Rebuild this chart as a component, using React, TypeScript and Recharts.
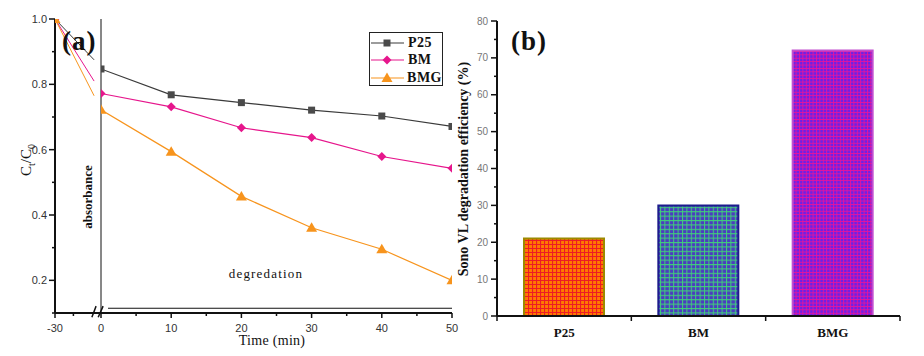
import React from 'react';
import { LineChart, Line, BarChart, Bar, Cell, XAxis, YAxis, ReferenceLine, Legend } from 'recharts';

// ---- panel (a): dark adsorption, -30..0 min (compressed part left of the axis break)
const darkTime = [-30, -4.5];
const darkP25 = [1.0, 0.875];
const darkBM = [1.0, 0.81];
const darkBMG = [1.0, 0.765];

// ---- panel (a): degradation, 0..50 min
const time = [0, 10, 20, 30, 40, 50];
const p25 = [0.847, 0.768, 0.744, 0.721, 0.703, 0.671];
const bm = [0.772, 0.731, 0.667, 0.637, 0.579, 0.543];
const bmg = [0.722, 0.594, 0.457, 0.361, 0.295, 0.2];

const seriesNames = ['P25', 'BM', 'BMG'];
const yTicksA = [0.1, 0.2, 0.3, 0.4, 0.5, 0.6, 0.7, 0.8, 0.9, 1.0];
const xTicksA = [0, 5, 10, 15, 20, 25, 30, 35, 40, 45, 50];
const darkTicks = [-30, -18];
const frameTicks = [1, 2, 3, 4, 5, 6, 7, 8, 9];

// ---- panel (b)
const catalysts = ['P25', 'BM', 'BMG'];
const efficiency = [21, 30, 72];
const yTicksB = [0, 5, 10, 15, 20, 25, 30, 35, 40, 45, 50, 55, 60, 65, 70, 75, 80];
const xTicksB = [0, 0.5, 1, 1.5, 2, 2.5, 3];

const darkData = darkTime.map((t, i) => ({ t, P25: darkP25[i], BM: darkBM[i], BMG: darkBMG[i] }));
const lightData = time.map((t, i) => ({ t, P25: p25[i], BM: bm[i], BMG: bmg[i] }));
const barData = catalysts.map((name, i) => ({ pos: i + 0.5, name, value: efficiency[i] }));

const W = 924;
const H = 356;
const SERIF = "'Liberation Serif', 'Times New Roman', serif";
const SANS = "'Liberation Sans', Arial, sans-serif";
const INK = '#111';
const axisStyle = { stroke: INK, strokeWidth: 2 };

const COLORS: Record<string, string> = { P25: '#3a3a3a', BM: '#e6168c', BMG: '#f7941d' };
// frame of panel (a) spans x 55..452, split into 10 equal divisions; right part starts at 101
const FRAME_START = 46 / 39.7;

const Marker = ({ name, cx, cy }: { name: string; cx: number; cy: number }) => {
  if (name === 'P25') return <rect x={cx - 3.5} y={cy - 3.5} width={7} height={7} fill="#4a4a4a" />;
  if (name === 'BM')
    return <polygon points={`${cx},${cy - 4.5} ${cx + 4.5},${cy} ${cx},${cy + 4.5} ${cx - 4.5},${cy}`} fill={COLORS.BM} />;
  return <polygon points={`${cx},${cy - 5.5} ${cx + 5.5},${cy + 4} ${cx - 5.5},${cy + 4}`} fill={COLORS.BMG} />;
};

const dotFor = (name: string, onlyFirst = false) => (p: any) => {
  if (onlyFirst && p.index !== 0) return <g key={`${name}-${p.index}`} />;
  return <Marker key={`${name}-${p.index}`} name={name} cx={p.cx} cy={p.cy} />;
};

const LeftTickA = ({ x, y, payload }: any) => {
  const v = payload.value;
  const major = Math.round(v * 10) % 2 === 0;
  return (
    <g>
      <line x1={x} x2={x - (major ? 6 : 3)} y1={y} y2={y} stroke={INK} strokeWidth={1.5} />
      {major && (
        <text x={x - 8} y={y + 4} textAnchor="end" fontSize={11} fill="#333" fontFamily={SANS}>
          {v.toFixed(1)}
        </text>
      )}
    </g>
  );
};

const BottomTickA = ({ x, y, payload }: any) => {
  const v = payload.value;
  const major = v % 10 === 0;
  return (
    <g>
      <line x1={x} x2={x} y1={y} y2={y + (major ? 5 : 3)} stroke={INK} strokeWidth={1.5} />
      {major && (
        <text x={x} y={y + 19} textAnchor="middle" fontSize={11} fill="#333" fontFamily={SANS}>
          {v}
        </text>
      )}
    </g>
  );
};

const TopFrameTick = ({ x, y }: any) => <line x1={x} x2={x} y1={y} y2={y + 5} stroke={INK} strokeWidth={1.5} />;
const RightFrameTick = ({ x, y }: any) => <line x1={x} x2={x - 5} y1={y} y2={y} stroke={INK} strokeWidth={1.5} />;

const BarYTick = ({ x, y, payload }: any) => {
  const v = payload.value;
  const major = v % 10 === 0;
  return (
    <g>
      <line x1={x} x2={x - (major ? 6 : 3)} y1={y} y2={y} stroke={INK} strokeWidth={1.5} />
      {major && (
        <text x={x - 9} y={y + 3.5} textAnchor="end" fontSize={10} fill="#777" fontFamily={SANS}>
          {v}
        </text>
      )}
    </g>
  );
};

const BarXTick = ({ x, y, payload }: any) => {
  const v = payload.value;
  if (Number.isInteger(v)) return <line x1={x} x2={x} y1={y} y2={y + 5} stroke={INK} strokeWidth={1.5} />;
  return (
    <text x={x} y={y + 21} textAnchor="middle" fontSize={13} fontWeight="bold" fill={INK} fontFamily={SERIF}>
      {catalysts[Math.floor(v)]}
    </text>
  );
};

const LegendBox = ({ payload }: any) => {
  const items = [...(payload || [])].sort(
    (a: any, b: any) => seriesNames.indexOf(a.value) - seriesNames.indexOf(b.value),
  );
  return (
    <div style={{ border: '1px solid #222', width: 74, height: 54, boxSizing: 'border-box', background: '#fff', paddingTop: 1 }}>
      {items.map((e: any) => (
        <div key={e.value} style={{ display: 'flex', alignItems: 'center', height: 17.5 }}>
          <svg width={34} height={12} style={{ marginLeft: 1 }}>
            <line x1={0} x2={33} y1={6} y2={6} stroke={COLORS[e.value]} strokeWidth={1.2} />
            <Marker name={e.value} cx={16} cy={6} />
          </svg>
          <span style={{ fontFamily: SERIF, fontWeight: 'bold', fontSize: 14, marginLeft: 3, color: INK, letterSpacing: 0.5 }}>
            {e.value}
          </span>
        </div>
      ))}
    </div>
  );
};

const text = (style: React.CSSProperties): React.CSSProperties => ({
  position: 'absolute',
  whiteSpace: 'nowrap',
  lineHeight: 1,
  color: INK,
  ...style,
});

const layer: React.CSSProperties = { position: 'absolute', left: 0, top: 0 };

export default function App() {
  return (
    <div style={{ position: 'absolute', left: 0, top: 0, width: W, height: H, background: '#fff', overflow: 'hidden' }}>
      {/* (b) bars */}
      <div style={layer}>
        <BarChart width={W} height={H} data={barData} margin={{ top: 21, left: 467, right: 24, bottom: 0 }}>
          <defs>
            <pattern id="pat-P25" width={4} height={4} patternUnits="userSpaceOnUse">
              <rect width={4} height={4} fill="#ff7a00" />
              <path d="M0 0.5 H4 M0.5 0 V4" stroke="#ec1c24" strokeWidth={1.2} />
            </pattern>
            <pattern id="pat-BM" width={4.4} height={4.4} patternUnits="userSpaceOnUse">
              <rect width={4.4} height={4.4} fill="#4b3cc0" />
              <path d="M0 0.5 H4.4 M0.5 0 V4.4" stroke="#3fcf7a" strokeWidth={1} />
            </pattern>
            <pattern id="pat-BMG" width={3.4} height={3.4} patternUnits="userSpaceOnUse">
              <rect width={3.4} height={3.4} fill="#6c22e6" />
              <path d="M0 0.5 H3.4 M0.5 0 V3.4" stroke="#e8139a" strokeWidth={0.9} />
            </pattern>
          </defs>
          <XAxis
            xAxisId="b"
            dataKey="pos"
            type="number"
            domain={[0, 3]}
            ticks={xTicksB}
            interval={0}
            height={40}
            tickSize={0}
            tickMargin={0}
            tickLine={false}
            tick={<BarXTick />}
            axisLine={axisStyle}
          />
          <XAxis xAxisId="t" orientation="top" type="number" domain={[0, 3]} height={0} ticks={[]} tick={false} tickLine={false} axisLine={axisStyle} />
          <YAxis
            yAxisId="l"
            type="number"
            domain={[0, 80]}
            ticks={yTicksB}
            interval={0}
            width={30}
            tickSize={0}
            tickMargin={0}
            tickLine={false}
            tick={<BarYTick />}
            axisLine={axisStyle}
          />
          <YAxis yAxisId="r" orientation="right" type="number" domain={[0, 80]} width={0} ticks={[]} tick={false} tickLine={false} axisLine={axisStyle} />
          <Bar xAxisId="b" yAxisId="l" dataKey="value" barSize={80} isAnimationActive={false}>
            {barData.map((d) => (
              <Cell
                key={d.name}
                fill={`url(#pat-${d.name})`}
                stroke={d.name === 'P25' ? '#9c8a00' : d.name === 'BM' ? '#1c1c8c' : '#c24fd0'}
                strokeWidth={2}
              />
            ))}
          </Bar>
        </BarChart>
      </div>

      {/* (a) dark part, left of the break */}
      <div style={layer}>
        <LineChart width={W} height={H} data={darkData} margin={{ top: 19, left: 0, right: W - 101, bottom: 0 }}>
          <XAxis
            xAxisId="b"
            dataKey="t"
            type="number"
            domain={[-30, 0]}
            allowDataOverflow
            ticks={darkTicks}
            interval={0}
            height={43}
            tickSize={0}
            tickMargin={0}
            tickLine={false}
            tick={<BottomTickA />}
            axisLine={axisStyle}
          />
          <XAxis xAxisId="t" orientation="top" type="number" domain={[-30, 0]} height={0} ticks={[]} tick={false} tickLine={false} axisLine={axisStyle} />
          <YAxis
            yAxisId="l"
            type="number"
            domain={[0.1, 1]}
            allowDataOverflow
            ticks={yTicksA}
            interval={0}
            width={55}
            tickSize={0}
            tickMargin={0}
            tickLine={false}
            tick={<LeftTickA />}
            axisLine={axisStyle}
          />
          {seriesNames.map((k) => (
            <Line
              key={k}
              xAxisId="b"
              yAxisId="l"
              dataKey={k}
              stroke={COLORS[k]}
              strokeWidth={1}
              dot={dotFor(k, true)}
              activeDot={false}
              isAnimationActive={false}
            />
          ))}
        </LineChart>
      </div>

      {/* (a) degradation part */}
      <div style={layer}>
        <LineChart width={W} height={H} data={lightData} margin={{ top: 19, left: 101, right: W - 452, bottom: 0 }}>
          <XAxis
            xAxisId="b"
            dataKey="t"
            type="number"
            domain={[0, 50]}
            allowDataOverflow
            ticks={xTicksA}
            interval={0}
            height={43}
            tickSize={0}
            tickMargin={0}
            tickLine={false}
            tick={<BottomTickA />}
            axisLine={axisStyle}
          />
          <XAxis
            xAxisId="frame"
            orientation="top"
            type="number"
            domain={[FRAME_START, 10]}
            allowDataOverflow
            ticks={frameTicks.slice(1)}
            interval={0}
            height={0}
            tickSize={0}
            tickMargin={0}
            tickLine={false}
            tick={<TopFrameTick />}
            axisLine={axisStyle}
          />
          <YAxis yAxisId="l" hide type="number" domain={[0.1, 1]} allowDataOverflow />
          <YAxis
            yAxisId="frame"
            orientation="right"
            type="number"
            domain={[0, 10]}
            allowDataOverflow
            ticks={frameTicks}
            interval={0}
            width={0}
            tickSize={0}
            tickMargin={0}
            tickLine={false}
            tick={<RightFrameTick />}
            axisLine={axisStyle}
          />
          <ReferenceLine xAxisId="b" yAxisId="l" x={0} stroke={INK} strokeWidth={1} />
          <ReferenceLine
            xAxisId="b"
            yAxisId="l"
            segment={[{ x: 1, y: 0.1145 }, { x: 50, y: 0.1145 }]}
            stroke={INK}
            strokeWidth={1.2}
          />
          <ReferenceLine
            xAxisId="b"
            yAxisId="l"
            ifOverflow="visible"
            segment={[{ x: -1.3, y: 0.087 }, { x: -0.7, y: 0.121 }]}
            stroke={INK}
            strokeWidth={1.5}
          />
          <ReferenceLine
            xAxisId="b"
            yAxisId="l"
            ifOverflow="visible"
            segment={[{ x: -0.4, y: 0.087 }, { x: 0.3, y: 0.121 }]}
            stroke={INK}
            strokeWidth={1.5}
          />
          {seriesNames.map((k) => (
            <Line
              key={k}
              name={k}
              xAxisId="b"
              yAxisId="l"
              dataKey={k}
              stroke={COLORS[k]}
              strokeWidth={1.2}
              dot={dotFor(k)}
              activeDot={false}
              isAnimationActive={false}
            />
          ))}
          <Legend
            layout="vertical"
            align="center"
            verticalAlign="middle"
            content={<LegendBox />}
            wrapperStyle={{ position: 'absolute', left: 369, top: 32, width: 74, height: 54 }}
          />
        </LineChart>
      </div>

      {/* text */}
      <div style={text({ left: 62, top: 28, fontFamily: SERIF, fontWeight: 'bold', fontSize: 27, letterSpacing: 1 })}>(a)</div>
      <div style={text({ left: 511, top: 28, fontFamily: SERIF, fontWeight: 'bold', fontSize: 27, letterSpacing: 1 })}>(b)</div>
      <div
        style={text({
          left: 87,
          top: 197,
          transform: 'translate(-50%, -50%) rotate(-90deg)',
          fontFamily: SERIF,
          fontWeight: 'bold',
          fontSize: 13,
        })}
      >
        absorbance
      </div>
      <div style={text({ left: 266, top: 273, transform: 'translate(-50%, -50%)', fontFamily: SERIF, fontSize: 13, letterSpacing: 1.2 })}>
        degredation
      </div>
      <div style={text({ left: 272, top: 341, transform: 'translate(-50%, -50%)', fontFamily: SERIF, fontSize: 14, letterSpacing: 0.3 })}>
        Time (min)
      </div>
      <div
        style={text({
          left: 28,
          top: 160,
          transform: 'translate(-50%, -50%) rotate(-90deg)',
          fontFamily: SERIF,
          fontSize: 15,
        })}
      >
        C<sub style={{ fontSize: 10 }}>t</sub>/C<sub style={{ fontSize: 10 }}>0</sub>
      </div>
      <div
        style={text({
          left: 464,
          top: 169,
          transform: 'translate(-50%, -50%) rotate(-90deg)',
          fontFamily: SERIF,
          fontWeight: 'bold',
          fontSize: 14,
        })}
      >
        Sono VL degradation efficiency (%)
      </div>
    </div>
  );
}
